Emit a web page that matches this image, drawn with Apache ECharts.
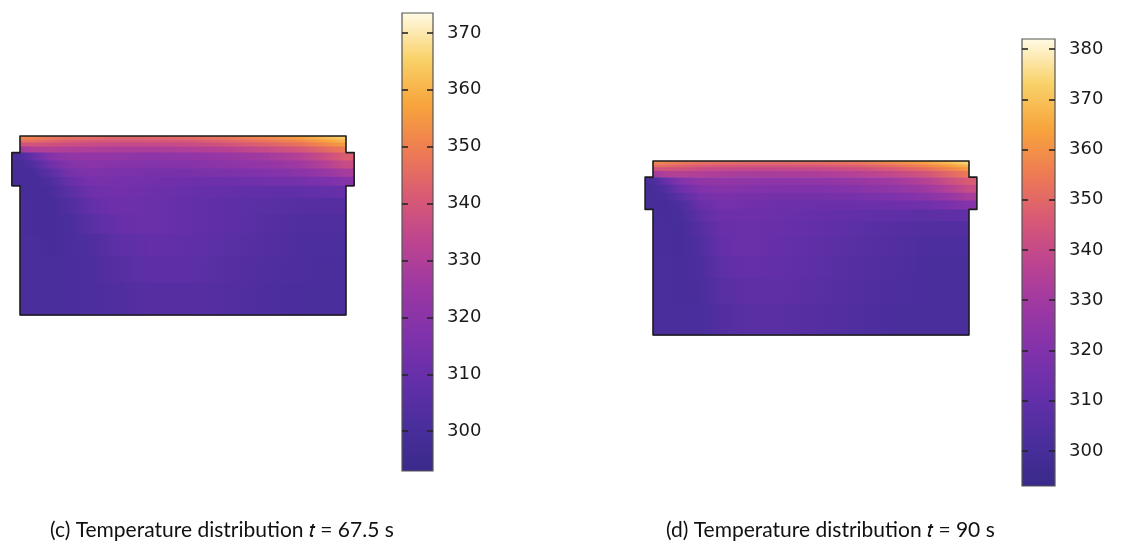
<!DOCTYPE html>
<html>
<head>
<meta charset="utf-8">
<script src="https://cdn.jsdelivr.net/npm/echarts@6/dist/echarts.min.js"></script>
<style>
  html, body { margin: 0; background: #fff; }
  #main { width: 1123px; height: 551px; }
</style>
</head>
<body>
<div id="main"></div>
<script>
// block geometry, units measured from the top-left corner of the body
const stripEdges = [0, 1, 2, 3.2, 5.1, 7.5, 10, 12.5, 15.3, 19, 24, 30, 37, 45, 55]
const columnX = [0, 4, 9, 15, 22, 30, 40, 52, 64, 76, 86, 94, 100]
const tabRange = [5.1, 15.3]
const outline = [
  [0, 0], [100, 0], [100, 5.1], [102.5, 5.1], [102.5, 15.3], [100, 15.3],
  [100, 55], [0, 55], [0, 15.3], [-2.5, 15.3], [-2.5, 5.1], [0, 5.1]
]

// temperatures (K) per strip (rows) and column (cols)
const tempC = [
  [351, 350, 348, 346, 345, 344, 344, 345, 348, 352, 356, 361, 365],
  [346, 346, 344, 342, 341, 340, 340, 341, 344, 348, 352, 357, 361],
  [338, 339, 338, 337, 336, 335, 335, 336, 339, 343, 347, 352, 356],
  [326, 330, 331, 330, 330, 329, 329, 330, 332, 336, 340, 345, 349],
  [301, 309, 318, 322, 323, 322, 321, 322, 324, 327, 331, 337, 342],
  [299, 303, 312, 318, 320, 319, 318, 319, 321, 323, 326, 331, 336],
  [299, 300, 306, 314, 317, 316, 315, 315, 316, 318, 320, 324, 328],
  [299, 299, 302, 310, 315, 314, 313, 312, 312, 313, 314, 316, 319],
  [300, 299, 300, 306, 312, 313, 312, 310, 309, 308, 308, 309, 310],
  [301, 300, 299, 303, 309, 312, 311, 309, 307, 306, 305, 305, 305],
  [301, 300, 300, 301, 306, 310, 311, 309, 307, 305, 303, 303, 303],
  [301, 301, 300, 301, 303, 307, 309, 308, 306, 304, 302, 302, 302],
  [301, 301, 301, 301, 302, 305, 307, 307, 305, 303, 302, 301, 301],
  [301, 301, 301, 301, 302, 303, 305, 305, 304, 302, 301, 301, 301]
]
const tempD = [
  [358, 356, 354, 352, 351, 350, 350, 351, 353, 358, 363, 369, 374],
  [352, 351, 349, 347, 346, 345, 345, 346, 348, 352, 357, 363, 368],
  [343, 344, 343, 341, 340, 339, 339, 340, 342, 346, 351, 357, 362],
  [330, 334, 335, 334, 333, 332, 332, 333, 335, 339, 344, 350, 355],
  [302, 312, 321, 325, 326, 325, 324, 325, 327, 330, 335, 342, 347],
  [300, 305, 314, 320, 322, 321, 320, 320, 322, 325, 329, 335, 341],
  [300, 301, 308, 316, 318, 317, 316, 316, 317, 319, 322, 327, 332],
  [300, 300, 303, 312, 316, 315, 314, 313, 313, 314, 315, 318, 321],
  [301, 300, 301, 309, 314, 314, 313, 311, 310, 309, 308, 309, 310],
  [302, 301, 300, 306, 312, 313, 312, 310, 308, 306, 305, 305, 305],
  [302, 301, 300, 304, 311, 313, 311, 309, 307, 305, 303, 303, 303],
  [302, 302, 301, 303, 309, 311, 310, 308, 306, 304, 302, 302, 302],
  [302, 302, 301, 302, 307, 309, 309, 307, 305, 303, 302, 302, 302],
  [302, 302, 302, 302, 305, 307, 307, 306, 304, 302, 302, 302, 302]
]

const rangeC = [293, 373.5]
const rangeD = [293, 382]
const ticksC = [300, 310, 320, 330, 340, 350, 360, 370]
const ticksD = [300, 310, 320, 330, 340, 350, 360, 370, 380]
const captions = [
  '(c) Temperature distribution 𝑡 = 67.5 s',
  '(d) Temperature distribution 𝑡 = 90 s'
]

const palette = [
  '#3a2a8a', '#4a2e9c', '#642fa9', '#8032ab', '#9c38a3', '#bd4490',
  '#d95a74', '#ee7c52', '#f7a53c', '#f9d26a', '#fffbe6'
]

function toColor(v, range) {
  const t = Math.max(0, Math.min(1, (v - range[0]) / (range[1] - range[0])))
  return echarts.color.lerp(t, palette)
}

function fieldSeries(idx, temps, range) {
  return {
    type: 'custom',
    xAxisIndex: idx.x,
    yAxisIndex: idx.y,
    silent: true,
    z: 2,
    data: temps.map((row, i) => [stripEdges[i], stripEdges[i + 1], i]),
    renderItem(params, api) {
      const y0 = api.value(0)
      const y1 = api.value(1)
      const row = temps[api.value(2)]
      const wide = y0 >= tabRange[0] && y1 <= tabRange[1]
      const xa = wide ? -2.5 : 0
      const xb = wide ? 102.5 : 100
      const p0 = api.coord([xa, y0])
      const p1 = api.coord([xb, y1])
      const stops = columnX.map((x, k) => ({
        offset: (x - xa) / (xb - xa),
        color: toColor(row[k], range)
      }))
      if (wide) {
        stops.unshift({ offset: 0, color: stops[0].color })
        stops.push({ offset: 1, color: stops[stops.length - 1].color })
      }
      return {
        type: 'rect',
        shape: {
          x: p0[0],
          y: Math.min(p0[1], p1[1]),
          width: p1[0] - p0[0],
          height: Math.abs(p1[1] - p0[1]) + 0.6
        },
        style: { fill: new echarts.graphic.LinearGradient(0, 0, 1, 0, stops) }
      }
    }
  }
}

function outlineSeries(idx) {
  return {
    type: 'custom',
    xAxisIndex: idx.x,
    yAxisIndex: idx.y,
    silent: true,
    z: 4,
    data: [[0, 0]],
    renderItem(params, api) {
      return {
        type: 'polygon',
        shape: { points: outline.map(p => api.coord(p)) },
        style: { fill: null, stroke: '#1c1c1c', lineWidth: 1.6, lineJoin: 'round' }
      }
    }
  }
}

function barSeries(idx, range) {
  return {
    type: 'custom',
    xAxisIndex: idx.x,
    yAxisIndex: idx.y,
    silent: true,
    z: 2,
    data: [[range[0], range[1]]],
    renderItem(params, api) {
      const p0 = api.coord([0, api.value(0)])
      const p1 = api.coord([1, api.value(1)])
      const stops = palette.map((c, k) => ({ offset: k / (palette.length - 1), color: c }))
      return {
        type: 'rect',
        shape: { x: p0[0], y: p1[1], width: p1[0] - p0[0], height: p0[1] - p1[1] },
        style: {
          fill: new echarts.graphic.LinearGradient(0, 1, 0, 0, stops),
          stroke: '#555',
          lineWidth: 1.2
        }
      }
    }
  }
}

function fieldAxes(gridIndex) {
  return {
    x: { type: 'value', gridIndex, min: -2.5, max: 102.5, show: false },
    y: { type: 'value', gridIndex, min: 0, max: 55, inverse: true, show: false }
  }
}

function barAxes(gridIndex, range, ticks) {
  const tick = {
    show: true, inside: true, length: 6, customValues: ticks,
    lineStyle: { color: '#262626', width: 1.6 }
  }
  return [
    {
      type: 'value', gridIndex, position: 'left', min: range[0], max: range[1], z: 5,
      axisLine: { show: false }, axisTick: tick, axisLabel: { show: false },
      splitLine: { show: false }
    },
    {
      type: 'value', gridIndex, position: 'right', min: range[0], max: range[1], z: 5,
      axisLine: { show: false }, axisTick: tick,
      axisLabel: {
        customValues: ticks, margin: 14, fontSize: 18,
        fontFamily: 'DejaVu Sans', color: '#1a1a1a'
      },
      splitLine: { show: false }
    }
  ]
}

const chart = echarts.init(document.getElementById('main'))
const fc = fieldAxes(0)
const fd = fieldAxes(2)
const bc = barAxes(1, rangeC, ticksC)
const bd = barAxes(3, rangeD, ticksD)
const captionStyle = { fontFamily: 'Lato', fontSize: 21, fontWeight: 'normal', color: '#111' }

chart.setOption({
  animation: false,
  title: [
    { text: captions[0], left: 45, top: 515, textStyle: captionStyle },
    { text: captions[1], left: 661, top: 515, textStyle: captionStyle }
  ],
  grid: [
    { left: 11.85, top: 136, width: 342.3, height: 179 },
    { left: 402, top: 13, width: 31, height: 458 },
    { left: 645.1, top: 161, width: 331.8, height: 174 },
    { left: 1022, top: 39, width: 33, height: 447 }
  ],
  xAxis: [
    fc.x,
    { type: 'value', gridIndex: 1, min: 0, max: 1, show: false },
    fd.x,
    { type: 'value', gridIndex: 3, min: 0, max: 1, show: false }
  ],
  yAxis: [fc.y, bc[0], bc[1], fd.y, bd[0], bd[1]],
  series: [
    fieldSeries({ x: 0, y: 0 }, tempC, rangeC),
    outlineSeries({ x: 0, y: 0 }),
    barSeries({ x: 1, y: 1 }, rangeC),
    fieldSeries({ x: 2, y: 3 }, tempD, rangeD),
    outlineSeries({ x: 2, y: 3 }),
    barSeries({ x: 3, y: 4 }, rangeD)
  ]
})
</script>
</body>
</html>
